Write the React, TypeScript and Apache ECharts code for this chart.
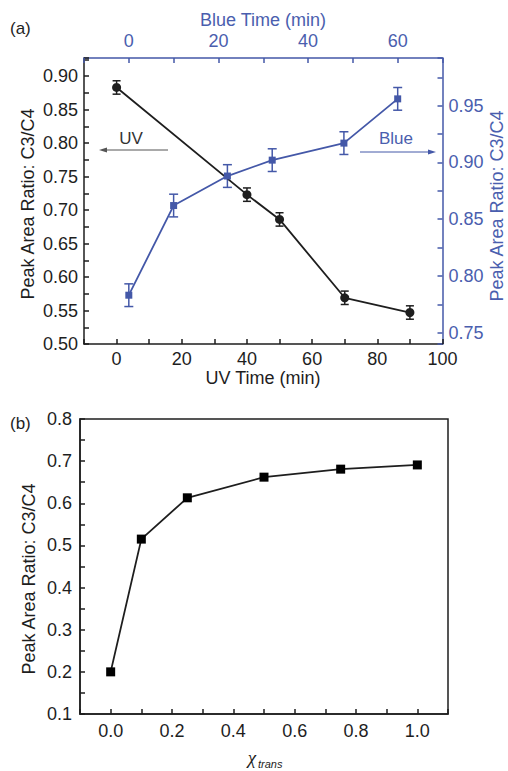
import React, { useEffect, useRef } from 'react';
import * as echarts from 'echarts';

// ---- Panel (a) data ----
const uvTime = [0, 40, 50, 70, 90];
const uvRatio = [0.883, 0.723, 0.686, 0.569, 0.547];
const uvErr = [0.01, 0.01, 0.01, 0.01, 0.01];

const blueTime = [0, 10, 22, 32, 48, 60];
const blueRatio = [0.783, 0.862, 0.888, 0.902, 0.917, 0.956];
const blueErr = [0.01, 0.01, 0.01, 0.01, 0.01, 0.01];

const uvTimeTicks = [0, 20, 40, 60, 80, 100];
const blueTimeTicks = [0, 20, 40, 60];
const leftRatioTicks = [0.5, 0.55, 0.6, 0.65, 0.7, 0.75, 0.8, 0.85, 0.9];
const rightRatioTicks = [0.75, 0.8, 0.85, 0.9, 0.95];

// ---- Panel (b) data ----
const chiTrans = [0, 0.1, 0.25, 0.5, 0.75, 1.0];
const chiRatio = [0.2, 0.515, 0.613, 0.662, 0.681, 0.691];
const chiTicks = [0, 0.2, 0.4, 0.6, 0.8, 1.0];
const bRatioTicks = [0.1, 0.2, 0.3, 0.4, 0.5, 0.6, 0.7, 0.8];

const FONT = '"Liberation Sans", Arial, Helvetica, sans-serif';
const BLACK = '#1e1e1e';
const BLUE = '#4458a8';
const BLUE_TEXT = '#4a5eae';

const onlyTicks = (ticks: number[], digits: number) => (v: number) =>
  ticks.some((t) => Math.abs(t - v) < 1e-6) ? v.toFixed(digits) : '';

const errRender = (color: string, capHalf: number, width: number) => (params: any, api: any) => {
  const x = api.value(0);
  const lo = api.coord([x, api.value(1)]);
  const hi = api.coord([x, api.value(2)]);
  const style = { stroke: color, lineWidth: width };
  return {
    type: 'group',
    children: [
      { type: 'line', shape: { x1: lo[0], y1: lo[1], x2: hi[0], y2: hi[1] }, style },
      { type: 'line', shape: { x1: lo[0] - capHalf, y1: lo[1], x2: lo[0] + capHalf, y2: lo[1] }, style },
      { type: 'line', shape: { x1: hi[0] - capHalf, y1: hi[1], x2: hi[0] + capHalf, y2: hi[1] }, style },
    ],
  };
};

const tickStyle = (color: string) => ({
  show: true,
  inside: true,
  length: 5,
  lineStyle: { color, width: 1.5 },
});

const labelStyle = (color: string, margin: number, fmt: (v: number) => string) => ({
  show: true,
  color,
  fontSize: 18,
  fontFamily: FONT,
  margin,
  formatter: fmt,
  showMinLabel: true,
  showMaxLabel: true,
});

const txt = (x: number, y: number, text: string, opts: any = {}) => ({
  type: 'text',
  x,
  y,
  rotation: opts.rotation || 0,
  z: 100,
  style: {
    text,
    fill: opts.color || BLACK,
    fontSize: opts.fontSize || 18,
    fontFamily: opts.fontFamily || FONT,
    fontStyle: opts.fontStyle || 'normal',
    textAlign: opts.align || 'center',
    textVerticalAlign: 'middle',
    align: opts.align || 'center',
    verticalAlign: 'middle',
  },
});

export default function App() {
  const ref = useRef<HTMLDivElement>(null);

  useEffect(() => {
    document.body.style.margin = '0';
    if (!ref.current) return;
    const chart = echarts.init(ref.current, null, { renderer: 'svg' });

    const option: any = {
      animation: false,
      backgroundColor: '#ffffff',
      textStyle: { fontFamily: FONT },
      grid: [
        { left: 84, top: 58, width: 358.5, height: 286 },
        { left: 80, top: 419, width: 368, height: 295, show: true, borderColor: BLACK, borderWidth: 1.5 },
      ],
      xAxis: [
        {
          type: 'value',
          gridIndex: 0,
          position: 'bottom',
          min: -10,
          max: 100,
          interval: 10,
          axisLine: { show: true, onZero: false, lineStyle: { color: BLACK, width: 1.5 } },
          axisTick: tickStyle(BLACK),
          axisLabel: labelStyle(BLACK, 6, onlyTicks(uvTimeTicks, 0)),
          splitLine: { show: false },
        },
        {
          type: 'value',
          gridIndex: 0,
          position: 'top',
          min: -10,
          max: 70,
          interval: 10,
          axisLine: { show: true, onZero: false, lineStyle: { color: BLUE, width: 1.5 } },
          axisTick: tickStyle(BLUE),
          axisLabel: labelStyle(BLUE_TEXT, 8, onlyTicks(blueTimeTicks, 0)),
          splitLine: { show: false },
        },
        {
          type: 'value',
          gridIndex: 1,
          position: 'bottom',
          min: -0.1,
          max: 1.1,
          interval: 0.1,
          axisLine: { show: true, onZero: false, lineStyle: { color: BLACK, width: 1.5 } },
          axisTick: tickStyle(BLACK),
          axisLabel: labelStyle(BLACK, 8, onlyTicks(chiTicks, 1)),
          splitLine: { show: false },
        },
      ],
      yAxis: [
        {
          type: 'value',
          gridIndex: 0,
          position: 'left',
          min: 0.5,
          max: 0.927,
          interval: 0.025,
          axisLine: { show: true, onZero: false, lineStyle: { color: BLACK, width: 1.5 } },
          axisTick: tickStyle(BLACK),
          axisLabel: labelStyle(BLACK, 6, onlyTicks(leftRatioTicks, 2)),
          splitLine: { show: false },
        },
        {
          type: 'value',
          gridIndex: 0,
          position: 'right',
          min: 0.74,
          max: 0.992,
          minInterval: 0.025,
          maxInterval: 0.025,
          axisLine: { show: true, onZero: false, lineStyle: { color: BLUE, width: 1.5 } },
          axisTick: tickStyle(BLUE),
          axisLabel: labelStyle(BLUE_TEXT, 6, onlyTicks(rightRatioTicks, 2)),
          splitLine: { show: false },
        },
        {
          type: 'value',
          gridIndex: 1,
          position: 'left',
          min: 0.1,
          max: 0.8,
          interval: 0.05,
          axisLine: { show: true, onZero: false, lineStyle: { color: BLACK, width: 1.5 } },
          axisTick: tickStyle(BLACK),
          axisLabel: labelStyle(BLACK, 8, onlyTicks(bRatioTicks, 1)),
          splitLine: { show: false },
        },
      ],
      series: [
        {
          type: 'custom',
          xAxisIndex: 0,
          yAxisIndex: 0,
          renderItem: errRender(BLACK, 4, 1.5),
          encode: { x: 0, y: [1, 2] },
          data: uvTime.map((t, i) => [t, uvRatio[i] - uvErr[i], uvRatio[i] + uvErr[i]]),
          z: 3,
        },
        {
          type: 'line',
          xAxisIndex: 0,
          yAxisIndex: 0,
          data: uvTime.map((t, i) => [t, uvRatio[i]]),
          symbol: 'circle',
          symbolSize: 9,
          itemStyle: { color: BLACK },
          lineStyle: { color: BLACK, width: 1.8 },
          z: 4,
        },
        {
          type: 'custom',
          xAxisIndex: 1,
          yAxisIndex: 1,
          renderItem: errRender(BLUE, 4.5, 1.5),
          encode: { x: 0, y: [1, 2] },
          data: blueTime.map((t, i) => [t, blueRatio[i] - blueErr[i], blueRatio[i] + blueErr[i]]),
          z: 3,
        },
        {
          type: 'line',
          xAxisIndex: 1,
          yAxisIndex: 1,
          data: blueTime.map((t, i) => [t, blueRatio[i]]),
          symbol: 'rect',
          symbolSize: 7,
          itemStyle: { color: BLUE },
          lineStyle: { color: BLUE, width: 1.8 },
          z: 4,
        },
        {
          type: 'line',
          xAxisIndex: 2,
          yAxisIndex: 2,
          data: chiTrans.map((t, i) => [t, chiRatio[i]]),
          symbol: 'rect',
          symbolSize: 9,
          itemStyle: { color: '#000' },
          lineStyle: { color: BLACK, width: 1.8 },
          z: 4,
        },
      ],
      graphic: [
        txt(10, 28, '(a)', { align: 'left', fontSize: 17 }),
        txt(10, 423, '(b)', { align: 'left', fontSize: 17 }),
        txt(263, 20, 'Blue Time (min)', { color: BLUE_TEXT }),
        txt(263, 378, 'UV Time (min)'),
        txt(28, 204, 'Peak Area Ratio: C3/C4', { rotation: Math.PI / 2 }),
        txt(497, 206, 'Peak Area Ratio: C3/C4', { rotation: Math.PI / 2, color: BLUE_TEXT }),
        txt(29, 579, 'Peak Area Ratio: C3/C4', { rotation: Math.PI / 2 }),
        txt(131, 138, 'UV', { fontSize: 17, color: '#333' }),
        txt(396, 138, 'Blue', { fontSize: 17, color: BLUE_TEXT }),
        // UV arrow (pointing left)
        { type: 'line', z: 100, shape: { x1: 168, y1: 150, x2: 103, y2: 150 }, style: { stroke: '#555', lineWidth: 1 } },
        { type: 'polygon', z: 100, shape: { points: [[99, 150], [107, 147.5], [107, 152.5]] }, style: { fill: '#555' } },
        // Blue arrow (pointing right)
        { type: 'line', z: 100, shape: { x1: 360, y1: 152, x2: 432, y2: 152 }, style: { stroke: BLUE, lineWidth: 1 } },
        { type: 'polygon', z: 100, shape: { points: [[436, 152], [428, 149.5], [428, 154.5]] }, style: { fill: BLUE } },
        // x axis title of panel (b): chi_trans
        txt(252, 757, 'χ', { fontSize: 19, fontStyle: 'italic', fontFamily: '"Liberation Serif", "DejaVu Serif", serif' }),
        txt(258, 764, 'trans', { fontSize: 11, fontStyle: 'italic', align: 'left' }),
      ],
    };

    chart.setOption(option);
    return () => chart.dispose();
  }, []);

  return <div ref={ref} style={{ width: 508, height: 771 }} />;
}
